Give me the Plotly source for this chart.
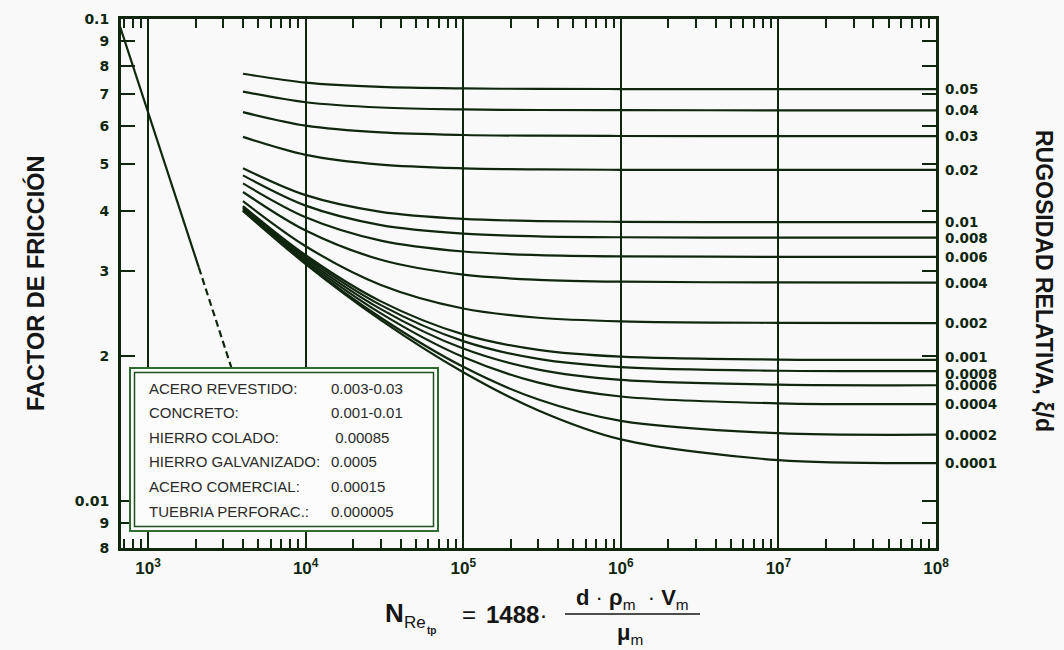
import numpy as np
import plotly.graph_objects as go

# ---------------- data ----------------
RE = [4000, 1e4, 3e4, 1e5, 3e5, 1e6, 1e7, 1e8]

ROUGHNESS = ["0.05", "0.04", "0.03", "0.02", "0.01", "0.008", "0.006", "0.004",
             "0.002", "0.001", "0.0008", "0.0006", "0.0004", "0.0002", "0.0001"]

F_0_05 = [0.0770, 0.0738, 0.07231, 0.07178, 0.07163, 0.07158, 0.07155, 0.07155]
F_0_04 = [0.0707, 0.0672, 0.06553, 0.06493, 0.06476, 0.06470, 0.06467, 0.06467]
F_0_03 = [0.0641, 0.0601, 0.05818, 0.05748, 0.05728, 0.05720, 0.05717, 0.05717]
F_0_02 = [0.05696, 0.05228, 0.0499, 0.04902, 0.04877, 0.04868, 0.04865, 0.04864]
F_0_01 = [0.04905, 0.04313, 0.03982, 0.0385, 0.03811, 0.03797, 0.03791, 0.0379]
F_0_008 = [0.04739, 0.04102, 0.03738, 0.03589, 0.03543, 0.03527, 0.03521, 0.0352]
F_0_006 = [0.04561, 0.03881, 0.03471, 0.03295, 0.0324, 0.0322, 0.03213, 0.03212]
F_0_004 = [0.04378, 0.03642, 0.03168, 0.0295, 0.02879, 0.02853, 0.02843, 0.02841]
F_0_002 = [0.0419, 0.03379, 0.02809, 0.0251, 0.02402, 0.02361, 0.02344, 0.02342]
F_0_001 = [0.04092, 0.03237, 0.02597, 0.02218, 0.0206, 0.01994, 0.01967, 0.01964]
F_0_0008 = [0.04072, 0.03209, 0.02551, 0.02148, 0.01973, 0.01897, 0.01865, 0.01861]
F_0_0006 = [0.04052, 0.03179, 0.02503, 0.02073, 0.01875, 0.01785, 0.01745, 0.0174]
F_0_0004 = [0.04031, 0.03149, 0.02453, 0.01991, 0.01762, 0.01649, 0.01596, 0.0159]
F_0_0002 = [0.0401, 0.03119, 0.02402, 0.019, 0.01625, 0.01468, 0.01384, 0.01374]
F_0_0001 = [0.04001, 0.03103, 0.02375, 0.01852, 0.01543, 0.01344, 0.01217, 0.0120]

CURVES = [F_0_05, F_0_04, F_0_03, F_0_02, F_0_01, F_0_008, F_0_006, F_0_004,
          F_0_002, F_0_001, F_0_0008, F_0_0006, F_0_0004, F_0_0002, F_0_0001]

LAMINAR_SOLID_RE = [640, 2100]
LAMINAR_SOLID_F = [0.1, 0.0305]
LAMINAR_DASH_RE = [2100, 3400]
LAMINAR_DASH_F = [0.0305, 0.0188]

X_DECADES = [1e3, 1e4, 1e5, 1e6, 1e7, 1e8]
X_DECADE_TEXT = ["10<sup>3</sup>", "10<sup>4</sup>", "10<sup>5</sup>",
                 "10<sup>6</sup>", "10<sup>7</sup>", "10<sup>8</sup>"]
X_MINOR = [m * 10 ** e for e in range(2, 8) for m in range(2, 10)]

Y_TICKS = [0.008, 0.009, 0.01, 0.02, 0.03, 0.04, 0.05, 0.06, 0.07, 0.08, 0.09, 0.1]
Y_TICK_TEXT = ["8", "9", "0.01", "2", "3", "4", "5", "6", "7", "8", "9", "0.1"]
Y_GRID = 0.01

X_RANGE = [673, 1e8]
Y_RANGE = [0.008, 0.1]

MATERIALS = ["ACERO REVESTIDO:", "CONCRETO:", "HIERRO COLADO:",
             "HIERRO GALVANIZADO:", "ACERO COMERCIAL:", "TUEBRIA PERFORAC.:"]
MATERIAL_ROUGHNESS = ["0.003-0.03", "0.001-0.01", " 0.00085", "0.0005",
                      "0.00015", "0.000005"]

# ---------------- style ----------------
INK = "#10260f"
BOX_GREEN = "#2f6a2f"
BG = "#f8f9f8"
W, H = 1064, 650
L, R, T, B = 121, 936, 19, 548  # plot area in px
LABEL_NUDGE = {"0.001": -3, "0.0008": 3}


def fx(px):
    return (px - L) / (R - L)


def fy(py):
    return (B - py) / (B - T)


fig = go.Figure()

for name, f in zip(ROUGHNESS, CURVES):
    fig.add_trace(go.Scatter(
        x=RE, y=f, mode="lines", name=name,
        line=dict(color=INK, width=2.2, shape="spline", smoothing=0.9),
        hoverinfo="skip", showlegend=False))

fig.add_trace(go.Scatter(
    x=LAMINAR_SOLID_RE, y=LAMINAR_SOLID_F, mode="lines",
    line=dict(color=INK, width=2.2), hoverinfo="skip", showlegend=False))
fig.add_trace(go.Scatter(
    x=LAMINAR_DASH_RE, y=LAMINAR_DASH_F, mode="lines",
    line=dict(color=INK, width=2.2, dash="7px,4px"), hoverinfo="skip", showlegend=False))

annotations = []
# right-hand roughness labels at curve ends
for name, f in zip(ROUGHNESS, CURVES):
    annotations.append(dict(
        x=np.log10(RE[-1]), y=np.log10(f[-1]), xref="x", yref="y",
        text=name, showarrow=False, xanchor="left", yanchor="middle", xshift=7,
        yshift=-LABEL_NUDGE.get(name, 0),
        font=dict(family="DejaVu Sans", size=13.5, color=INK, weight="bold")))

# legend box texts
row0, step = 388, 24.6
for i, (m, v) in enumerate(zip(MATERIALS, MATERIAL_ROUGHNESS)):
    yy = fy(row0 + i * step)
    annotations.append(dict(x=fx(147), y=yy, xref="paper", yref="paper", text=m,
                            showarrow=False, xanchor="left", yanchor="middle",
                            font=dict(family="Liberation Sans", size=15, color="#2a2a2a")))
    annotations.append(dict(x=fx(329), y=yy, xref="paper", yref="paper", text=v,
                            showarrow=False, xanchor="left", yanchor="middle",
                            font=dict(family="Liberation Sans", size=15, color="#2a2a2a")))

# axis titles
annotations.append(dict(x=fx(35), y=fy(284), xref="paper", yref="paper",
                        text="FACTOR DE FRICCIÓN", textangle=-90, showarrow=False,
                        xanchor="center", yanchor="middle",
                        font=dict(family="Liberation Sans", size=23.5, color="#151515",
                                  weight="bold")))
annotations.append(dict(x=fx(1044), y=fy(281), xref="paper", yref="paper",
                        text="RUGOSIDAD RELATIVA, ξ/d", textangle=90, showarrow=False,
                        xanchor="center", yanchor="middle",
                        font=dict(family="Liberation Sans", size=23, color="#151515",
                                  weight="bold")))

# formula  N_Re_tp = 1488 · d·ρm·Vm / μm
FORM = "Liberation Sans"
formula = [
    dict(x=fx(383), y=fy(613), text="<b>N</b>", xanchor="left", yanchor="middle",
         font=dict(family=FORM, size=26, color="#151515")),
    dict(x=fx(402), y=fy(622), text="Re", xanchor="left", yanchor="middle",
         font=dict(family=FORM, size=17, color="#151515")),
    dict(x=fx(425), y=fy(630), text="<b>tp</b>", xanchor="left", yanchor="middle",
         font=dict(family=FORM, size=10, color="#151515")),
    dict(x=fx(460), y=fy(614), text="=", xanchor="left", yanchor="middle",
         font=dict(family=FORM, size=24, color="#151515")),
    dict(x=fx(484), y=fy(614), text="<b>1488</b>·", xanchor="left", yanchor="middle",
         font=dict(family=FORM, size=24, color="#151515")),
    dict(x=fx(632), y=fy(599), text="<b>d</b> · <b>ρ</b><sub>m</sub>  · <b>V</b><sub>m</sub>",
         xanchor="center", yanchor="middle",
         font=dict(family=FORM, size=22, color="#151515")),
    dict(x=fx(630), y=fy(634), text="<b>μ</b><sub>m</sub>", xanchor="center", yanchor="middle",
         font=dict(family=FORM, size=22, color="#151515")),
]
for a in formula:
    a.update(xref="paper", yref="paper", showarrow=False)
annotations += formula

shapes = [
    # horizontal gridline at 0.01
    dict(type="line", xref="x domain", x0=0, x1=1, yref="y",
         y0=np.log10(Y_GRID), y1=np.log10(Y_GRID),
         line=dict(color=INK, width=2), layer="below"),
    # legend box (double border)
    dict(type="rect", xref="paper", yref="paper", x0=fx(130), x1=fx(438),
         y0=fy(531), y1=fy(368), fillcolor="#fbfcfb",
         line=dict(color=BOX_GREEN, width=2), layer="above"),
    dict(type="rect", xref="paper", yref="paper", x0=fx(134.5), x1=fx(433.5),
         y0=fy(526.5), y1=fy(372.5),
         line=dict(color="#1f4f1f", width=1.5), layer="above"),
    # fraction bar
    dict(type="line", xref="paper", yref="paper", x0=fx(565), x1=fx(700),
         y0=fy(614), y1=fy(614), line=dict(color="#151515", width=1.5)),
]

fig.update_layout(
    width=W, height=H,
    margin=dict(l=L, r=W - R, t=T, b=H - B, pad=0),
    paper_bgcolor=BG, plot_bgcolor=BG,
    showlegend=False,
    annotations=annotations,
    shapes=shapes,
    xaxis=dict(
        type="log", range=[np.log10(X_RANGE[0]), np.log10(X_RANGE[1])],
        tickmode="array", tickvals=X_DECADES, ticktext=X_DECADE_TEXT,
        ticks="inside", ticklen=10, tickwidth=2, tickcolor=INK,
        showgrid=True, gridcolor=INK, gridwidth=2,
        showline=True, linecolor=INK, linewidth=3, mirror="allticks",
        zeroline=False, ticklabelstandoff=3,
        tickfont=dict(family="Liberation Sans", size=17, color=INK, weight="bold"),
        minor=dict(tickmode="array", tickvals=X_MINOR, ticks="inside",
                   ticklen=9, tickwidth=2, tickcolor=INK, showgrid=False),
    ),
    yaxis=dict(
        type="log", range=[np.log10(Y_RANGE[0]), np.log10(Y_RANGE[1])],
        tickmode="array", tickvals=Y_TICKS, ticktext=Y_TICK_TEXT,
        ticks="inside", ticklen=14, tickwidth=2, tickcolor=INK,
        showgrid=False,
        showline=True, linecolor=INK, linewidth=3, mirror="allticks",
        zeroline=False, ticklabelstandoff=6,
        tickfont=dict(family="DejaVu Sans", size=14, color=INK, weight="bold"),
    ),
)

fig.write_html("out.html", config={"displayModeBar": False},
               post_script="document.body.style.margin='0px';document.body.style.overflow='hidden';")
